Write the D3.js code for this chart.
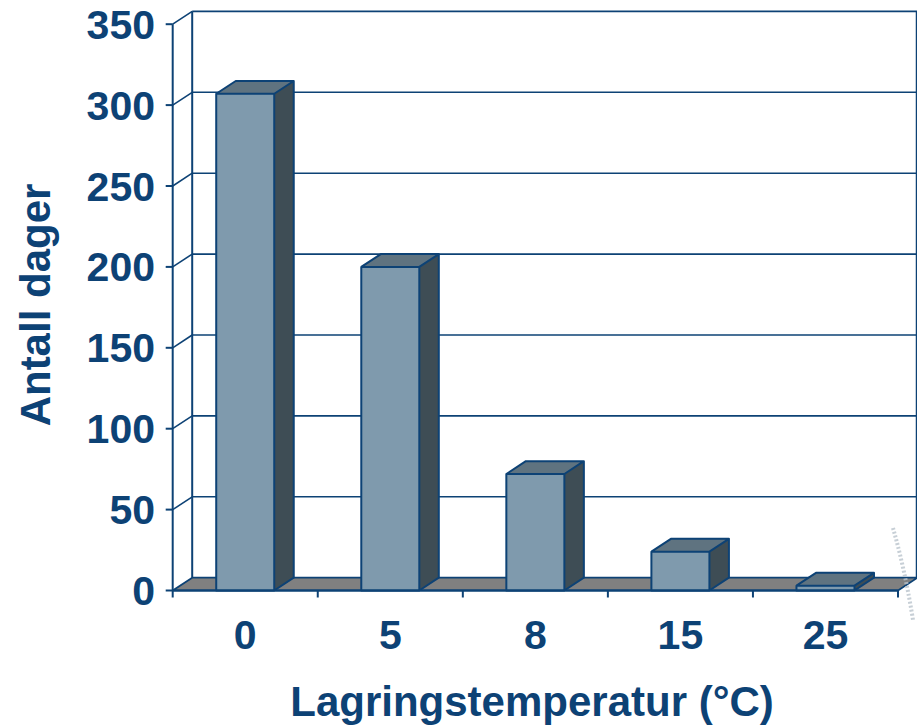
<!DOCTYPE html>
<html>
<head>
<meta charset="utf-8">
<script src="https://cdn.jsdelivr.net/npm/d3@7"></script>
<style>
  html, body { margin: 0; padding: 0; background: #ffffff; }
  svg { display: block; }
  text { font-family: "Liberation Sans", Arial, sans-serif; font-weight: bold; fill: #0d4275; }
</style>
</head>
<body>
<svg id="chart" width="917" height="725"></svg>
<script>
// Storage temperature categories and days of shelf life
const categories = ["0", "5", "8", "15", "25"];
const days = [307, 200, 72, 24, 3];
const yTicks = [0, 50, 100, 150, 200, 250, 300, 350];
const xTitle = "Lagringstemperatur (°C)";
const yTitle = "Antall dager";

const ink = "#0d4275";
const faceFront = "#7f9aad";
const faceTop = "#5f7380";
const faceSide = "#3e4d55";
const floorFill = "#808080";

// 3D depth offset of the back wall relative to the front plane
const dx = 19.5, dy = 12.8;
const left = 172.7, right = 898;

const svg = d3.select("#chart");

const x = d3.scaleBand()
  .domain(categories)
  .range([left, right])
  .paddingInner(0.6)
  .paddingOuter(0.3);

const y = d3.scaleLinear()
  .domain([0, 350])
  .range([590.5, 24.2]);

const step = x.step();
const wallRight = right + dx;

// back wall grid lines
const wall = svg.append("g");
wall.selectAll("line.grid")
  .data(yTicks.filter(d => d > 0))
  .join("line")
  .attr("class", "grid")
  .attr("x1", left + dx).attr("x2", wallRight)
  .attr("y1", d => y(d) - dy).attr("y2", d => y(d) - dy)
  .attr("stroke", ink).attr("stroke-width", 1.6);

// back wall edges
wall.append("line")
  .attr("x1", left + dx).attr("x2", left + dx)
  .attr("y1", y(350) - dy).attr("y2", y(0) - dy)
  .attr("stroke", ink).attr("stroke-width", 2);
wall.append("line")
  .attr("x1", wallRight - 1).attr("x2", wallRight - 1)
  .attr("y1", y(350) - dy).attr("y2", y(0) - dy)
  .attr("stroke", ink).attr("stroke-width", 1.5);

// side-wall depth lines from each y tick
wall.selectAll("line.depth")
  .data(yTicks.filter(d => d > 0))
  .join("line")
  .attr("class", "depth")
  .attr("x1", left).attr("x2", left + dx)
  .attr("y1", d => y(d)).attr("y2", d => y(d) - dy)
  .attr("stroke", ink).attr("stroke-width", 1.6);

// floor
svg.append("polygon")
  .attr("points", [
    [left, y(0)], [right, y(0)], [wallRight, y(0) - dy], [left + dx, y(0) - dy]
  ].map(p => p.join(",")).join(" "))
  .attr("fill", floorFill)
  .attr("stroke", ink).attr("stroke-width", 1.8)
  .attr("stroke-linejoin", "round");

// front y axis line and ticks
svg.append("line")
  .attr("x1", left).attr("x2", left)
  .attr("y1", y(350)).attr("y2", y(0))
  .attr("stroke", ink).attr("stroke-width", 2);
svg.selectAll("line.ytick")
  .data(yTicks)
  .join("line")
  .attr("class", "ytick")
  .attr("x1", left - 7).attr("x2", left)
  .attr("y1", d => y(d)).attr("y2", d => y(d))
  .attr("stroke", ink).attr("stroke-width", 2);

// bars as boxes: front face, top face, side face
const bars = svg.selectAll("g.bar")
  .data(categories.map((c, i) => ({ c, v: days[i] })))
  .join("g").attr("class", "bar");

const pts = a => a.map(p => p.join(",")).join(" ");

bars.append("polygon")
  .attr("points", d => {
    const x0 = x(d.c), x1 = x(d.c) + x.bandwidth();
    return pts([[x0, y(d.v)], [x1, y(d.v)], [x1, y(0)], [x0, y(0)]]);
  })
  .attr("fill", faceFront);
bars.append("polygon")
  .attr("points", d => {
    const x0 = x(d.c), x1 = x(d.c) + x.bandwidth(), t = y(d.v);
    return pts([[x0, t], [x0 + dx, t - dy], [x1 + dx, t - dy], [x1, t]]);
  })
  .attr("fill", faceTop);
bars.append("polygon")
  .attr("points", d => {
    const x1 = x(d.c) + x.bandwidth(), t = y(d.v);
    return pts([[x1, t], [x1 + dx, t - dy], [x1 + dx, y(0) - dy], [x1, y(0)]]);
  })
  .attr("fill", faceSide);
// outlines
bars.append("path")
  .attr("d", d => {
    const x0 = x(d.c), x1 = x(d.c) + x.bandwidth(), t = y(d.v), b = y(0);
    return `M${x0},${b}V${t}H${x1}V${b}Z` +
      `M${x0},${t}L${x0 + dx},${t - dy}H${x1 + dx}L${x1},${t}` +
      `M${x1 + dx},${t - dy}V${b - dy}L${x1},${b}`;
  })
  .attr("fill", "none")
  .attr("stroke", ink).attr("stroke-width", 2)
  .attr("stroke-linejoin", "round");

// front x axis line and category separators
svg.append("line")
  .attr("x1", left).attr("x2", right)
  .attr("y1", y(0)).attr("y2", y(0))
  .attr("stroke", ink).attr("stroke-width", 2);
svg.selectAll("line.xtick")
  .data(d3.range(categories.length + 1))
  .join("line")
  .attr("class", "xtick")
  .attr("x1", i => left + i * step).attr("x2", i => left + i * step)
  .attr("y1", y(0)).attr("y2", y(0) + 7)
  .attr("stroke", ink).attr("stroke-width", 2);

// tick labels
svg.selectAll("text.ylab")
  .data(yTicks)
  .join("text")
  .attr("class", "ylab")
  .attr("x", 155)
  .attr("y", d => y(d) + 14.5)
  .attr("text-anchor", "end")
  .style("font-size", "41px")
  .text(d => d);

svg.selectAll("text.xlab")
  .data(categories)
  .join("text")
  .attr("class", "xlab")
  .attr("x", d => x(d) + x.bandwidth() / 2)
  .attr("y", 649)
  .attr("text-anchor", "middle")
  .style("font-size", "41px")
  .text(d => d);

// axis titles
svg.append("text")
  .attr("x", 532)
  .attr("y", 716)
  .attr("text-anchor", "middle")
  .style("font-size", "42px")
  .text(xTitle);

svg.append("text")
  .attr("transform", "translate(50,305) rotate(-90)")
  .attr("text-anchor", "middle")
  .style("font-size", "42px")
  .text(yTitle);

// faint dotted flourish at the right edge
svg.append("path")
  .attr("d", "M893,528 Q905,570 913,620")
  .attr("fill", "none")
  .attr("stroke", "#b9c3cc")
  .attr("stroke-width", 4)
  .attr("stroke-dasharray", "2,2")
  .attr("opacity", 0.8);
</script>
</body>
</html>
